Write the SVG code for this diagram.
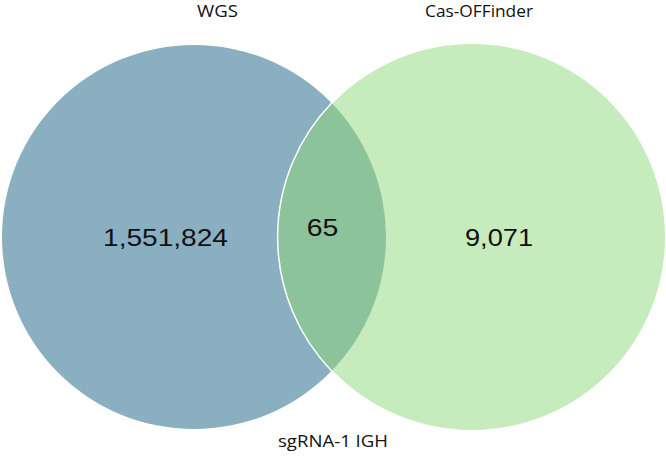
<svg xmlns="http://www.w3.org/2000/svg" width="666" height="464" viewBox="0 0 666 464">
  <style>
    .lbl { font-family: "Open Sans", "Noto Sans", sans-serif; font-size: 16px; fill: #111; }
    .num { font-family: "Liberation Sans", Arial, sans-serif; font-size: 24px; fill: #111; }
  </style>
  <rect width="666" height="464" fill="#ffffff"/>
  <g id="set-wgs">
    <circle cx="194" cy="237" r="192" fill="#8AAFC1"/>
  </g>
  <g id="set-casoffinder">
    <circle cx="472" cy="237" r="193" fill="#C6ECBD"/>
  </g>
  <g id="intersection">
    <path d="M331.6,103.1 A192,192 0 0 1 331.6,370.9 A193,193 0 0 1 331.6,103.1 Z" fill="#8CC39B"/>
    <path d="M331.6,370.9 A193,193 0 0 1 331.6,103.1" fill="none" stroke="#ffffff" stroke-width="1.5"/>
  </g>
  <g id="connectors"></g>
  <g id="labels">
    <text class="lbl" x="197" y="16.5" textLength="41" lengthAdjust="spacingAndGlyphs">WGS</text>
    <text class="lbl" x="425" y="16.5" textLength="108" lengthAdjust="spacingAndGlyphs">Cas-OFFinder</text>
    <text class="lbl" x="278" y="447" textLength="110" lengthAdjust="spacingAndGlyphs">sgRNA-1 IGH</text>
    <text class="num" x="103" y="245.7" textLength="125" lengthAdjust="spacingAndGlyphs">1,551,824</text>
    <text class="num" x="306.7" y="236" textLength="31.6" lengthAdjust="spacingAndGlyphs">65</text>
    <text class="num" x="465" y="245.7" textLength="68" lengthAdjust="spacingAndGlyphs">9,071</text>
  </g>
</svg>
